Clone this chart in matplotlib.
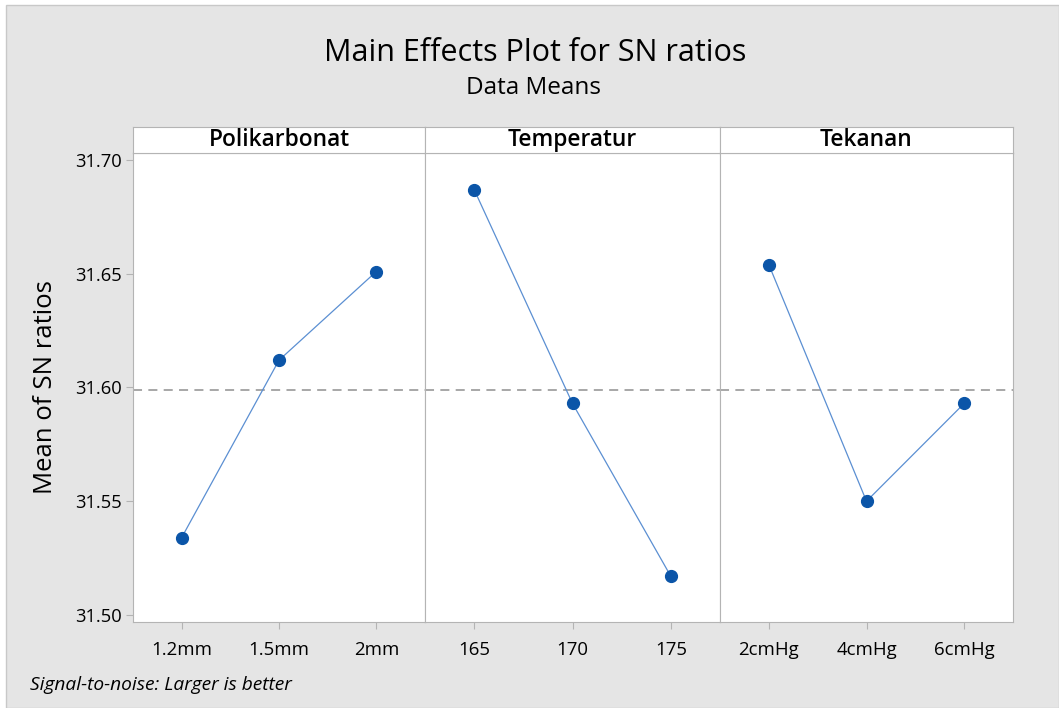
import matplotlib
matplotlib.use("Agg")
import matplotlib.pyplot as plt
from matplotlib.patches import Rectangle

# Faktoren und Stufen
faktoren = ["Polikarbonat", "Temperatur", "Tekanan"]
stufen = [
    ["1.2mm", "1.5mm", "2mm"],
    ["165", "170", "175"],
    ["2cmHg", "4cmHg", "6cmHg"],
]
# Mittelwerte der SN-Verhältnisse
sn_mittel = [
    [31.534, 31.612, 31.651],
    [31.687, 31.593, 31.517],
    [31.654, 31.550, 31.593],
]
gesamt_mittel = 31.599
y_ticks = [31.50, 31.55, 31.60, 31.65, 31.70]

W, H = 1059, 708
fx = lambda p: p / W
fy = lambda p: 1 - p / H

plt.rcParams['font.family'] = ['Open Sans', 'DejaVu Sans']

fig = plt.figure(figsize=(W / 100, H / 100), dpi=100)
fig.patch.set_facecolor("white")
fig.patches.append(Rectangle((fx(6), 0), 1 - fx(6), fy(5), transform=fig.transFigure,
                             facecolor="#e5e5e5", edgecolor="#c8c8c8", linewidth=1, zorder=-10))

rand_farbe = "#b4b4b4"
x_kanten = [133, 425, 720, 1013]
oben, strip_unten, unten = 127, 153, 622

for i, name in enumerate(faktoren):
    links, rechts = x_kanten[i], x_kanten[i + 1]
    ax = fig.add_axes([fx(links), fy(unten), fx(rechts - links), fy(strip_unten) - fy(unten)])
    ax.set_facecolor("white")
    x = list(range(len(stufen[i])))
    ax.plot(x, sn_mittel[i], color="#5b8fd2", linewidth=0.9, zorder=2)
    ax.plot(x, sn_mittel[i], "o", color="#0b55a8", markersize=8.5, zorder=3)
    ax.axhline(gesamt_mittel, color="#a0a0a0", linestyle=(0, (5, 3.5)), linewidth=1.3, zorder=1)
    ax.set_xlim(-0.5, 2.5)
    ax.set_ylim(31.4969, 31.7031)
    ax.set_xticks(x)
    ax.set_xticklabels(stufen[i], fontsize=13.4)
    ax.tick_params(axis="x", length=5, color=rand_farbe, pad=9)
    if i == 0:
        ax.set_yticks(y_ticks)
        ax.set_yticklabels([f"{v:.2f}" for v in y_ticks], fontsize=13.2)
        ax.tick_params(axis="y", length=5, color=rand_farbe, pad=3)
        ax.set_ylabel("Mean of SN ratios", fontsize=18.5, labelpad=12)
    else:
        ax.set_yticks([])
    for s in ax.spines.values():
        s.set_color(rand_farbe)

    # Streifen mit Faktorname
    st = fig.add_axes([fx(links), fy(strip_unten), fx(rechts - links), fy(oben) - fy(strip_unten)])
    st.set_facecolor("white")
    st.set_xticks([])
    st.set_yticks([])
    for s in st.spines.values():
        s.set_color(rand_farbe)
    st.text(0.5, 0.5, name, ha="center", va="center", fontsize=16.4, fontweight="semibold",
            transform=st.transAxes)

fig.text(fx(535), fy(53), "Main Effects Plot for SN ratios", ha="center", va="center", fontsize=22)
fig.text(fx(534), fy(88), "Data Means", ha="center", va="center", fontsize=17.5)
fig.text(fx(30), fy(685), "Signal-to-noise: Larger is better", ha="left", va="center",
         fontsize=13.8, fontstyle="italic")

fig.savefig("out.png", dpi=100, facecolor=fig.get_facecolor())
